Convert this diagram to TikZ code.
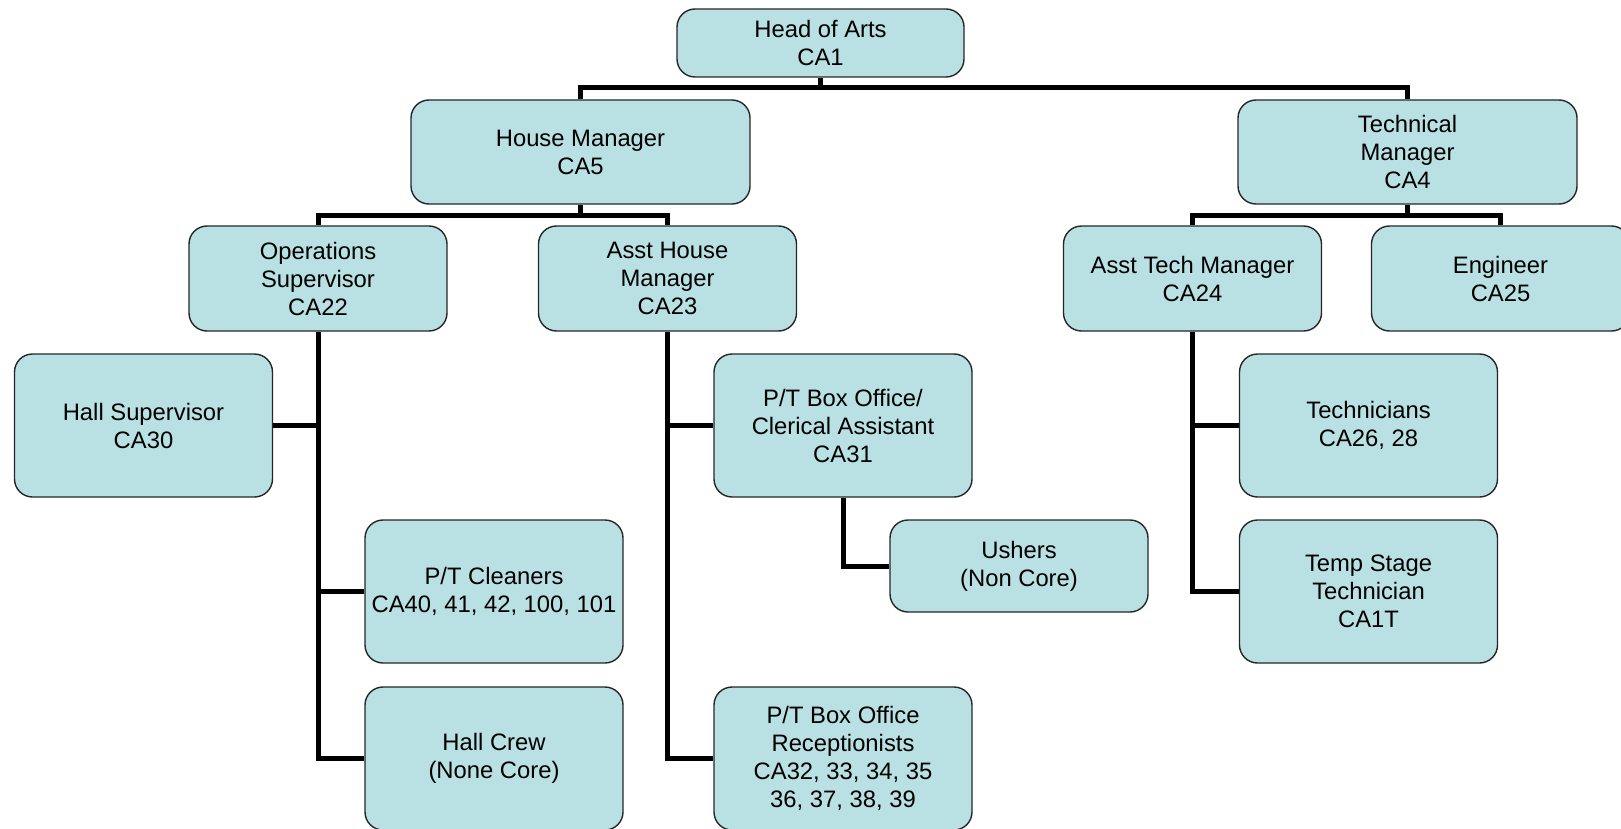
\documentclass[tikz,border=0pt]{standalone}
\usepackage{fontspec}
\setmainfont{Liberation Sans}
\usetikzlibrary{backgrounds}
\definecolor{boxfill}{RGB}{185,224,227}
\begin{document}
\begin{tikzpicture}[x=1pt,y=-1pt,
  box/.style={draw=black!85, line width=1.4pt, rounded corners=18pt, fill=boxfill,
    align=center, font=\fontsize{23.8}{28}\selectfont, inner sep=0pt,
    minimum width=258pt},
  conn/.style={line width=5pt}]
\useasboundingbox (0,0) rectangle (1621,829);
% level 0
\node[box, minimum width=287pt, minimum height=68pt] (head) at (820.5,43) {Head of Arts\\CA1};
% level 1
\node[box, minimum width=339pt, minimum height=104pt] (house) at (580.5,152) {House Manager\\CA5};
\node[box, minimum width=339pt, minimum height=104pt] (tech) at (1407.5,152) {Technical\\Manager\\CA4};
% level 2
\node[box, minimum height=105pt] (ops) at (318,278.5) {Operations\\Supervisor\\CA22};
\node[box, minimum height=105pt] (ahm) at (667.5,278.5) {Asst House\\Manager\\CA23};
\node[box, minimum height=105pt] (atm) at (1192.5,278.5) {Asst Tech Manager\\CA24};
\node[box, minimum height=105pt] (eng) at (1500.5,278.5) {Engineer\\CA25};
% level 3
\node[box, minimum height=143pt] (hs) at (143.5,425.5) {Hall Supervisor\\CA30};
\node[box, minimum height=143pt] (bo) at (843,425.5) {P/T Box Office/\\Clerical Assistant\\CA31};
\node[box, minimum height=143pt] (techs) at (1368.5,425.5) {Technicians\\CA26, 28};
\node[box, minimum height=143pt] (clean) at (494,591.5) {P/T Cleaners\\CA40, 41, 42, 100, 101};
\node[box, minimum height=92pt] (ush) at (1019,566) {Ushers\\(Non Core)};
\node[box, minimum height=143pt] (temp) at (1368.5,591.5) {Temp Stage\\Technician\\CA1T};
\node[box, minimum height=143pt] (crew) at (494,758.5) {Hall Crew\\(None Core)};
\node[box, minimum height=143pt] (rec) at (843,758.5) {P/T Box Office\\Receptionists\\CA32, 33, 34, 35\\36, 37, 38, 39};
% connectors
\coordinate (j1) at (820.5,88);
\coordinate (j2) at (580.5,215);
\coordinate (j3) at (1407.5,215);
\begin{scope}[on background layer]
\draw[conn] (head) -- (j1);
\draw[conn] (house.north) |- (j1) -| (tech.north);
\draw[conn] (house) -- (j2);
\draw[conn] (ops.north) |- (j2) -| (ahm.north);
\draw[conn] (tech) -- (j3);
\draw[conn] (atm.north) |- (j3) -| (eng.north);
\draw[conn] (ops.south) |- (crew.west);
\draw[conn] (hs.east) -- (hs.east -| ops.south);
\draw[conn] (clean.west) -- (clean.west -| ops.south);
\draw[conn] (ahm.south) |- (rec.west);
\draw[conn] (bo.west) -- (bo.west -| ahm.south);
\draw[conn] (bo.south) |- (ush.west);
\draw[conn] (atm.south) |- (temp.west);
\draw[conn] (techs.west) -- (techs.west -| atm.south);
\end{scope}
\end{tikzpicture}
\end{document}
